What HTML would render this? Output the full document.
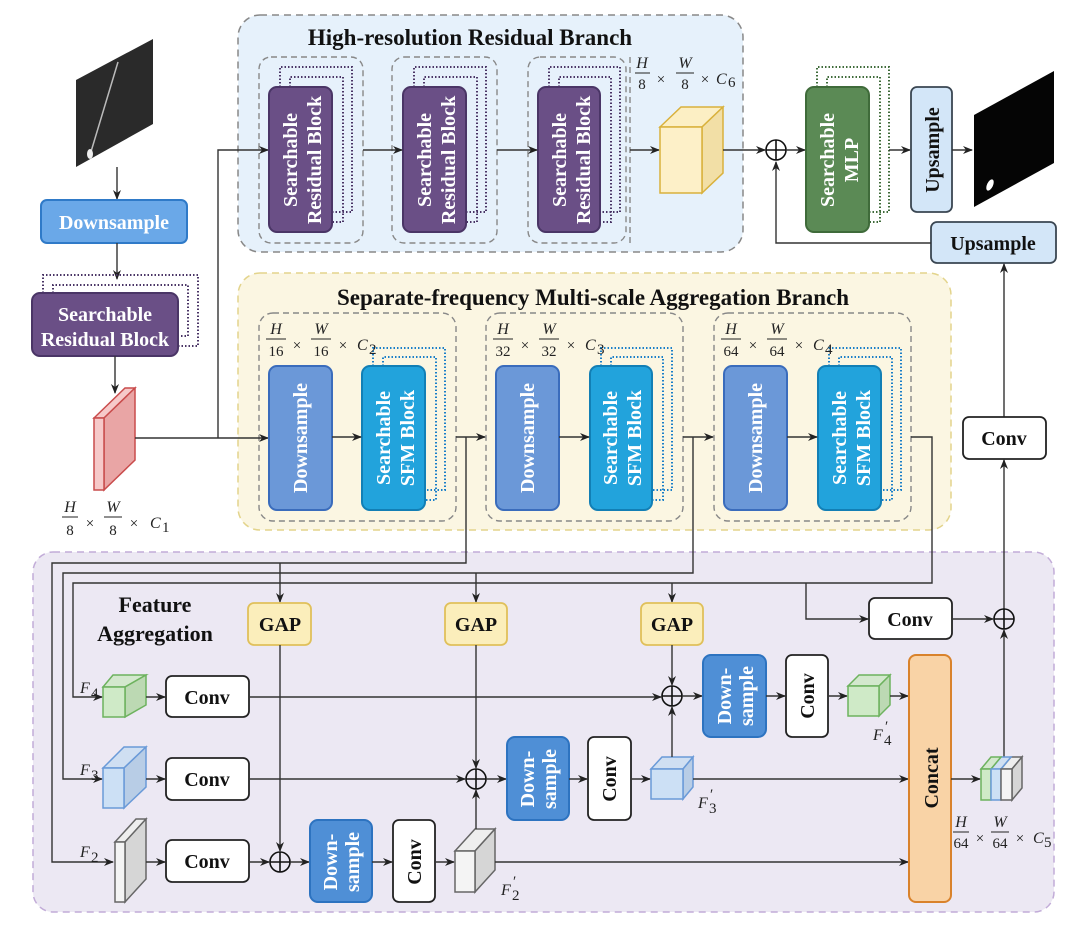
<!DOCTYPE html>
<html><head><meta charset="utf-8"><style>
html,body{margin:0;padding:0;background:#fff;}
svg{display:block;}
text{font-family:"Liberation Serif",serif;}
.b{font-weight:bold;}
.w{fill:#fff;font-weight:bold;font-size:20px;}
.k{fill:#111;font-weight:bold;}
.m{font-style:italic;font-size:16px;fill:#222;}
.n{font-size:15px;fill:#222;}
.ln{stroke:#333;stroke-width:1.4;fill:none;}
.dot{fill:none;stroke-width:2;stroke-dasharray:1.5 2;}
</style></head><body>
<svg width="1080" height="926" viewBox="0 0 1080 926" xmlns="http://www.w3.org/2000/svg">
<defs>
<marker id="a" markerWidth="10" markerHeight="8" refX="9" refY="4" orient="auto" markerUnits="userSpaceOnUse">
<path d="M0,0 L10,4 L0,8 L3,4 z" fill="#222"/></marker>
</defs>

<rect x="238" y="15" width="505" height="237" rx="22" fill="#e6f1fb" stroke="#888" stroke-width="1.5" stroke-dasharray="7 5"/>
<rect x="238" y="273" width="713" height="257" rx="22" fill="#fbf6e2" stroke="#e3d48c" stroke-width="1.5" stroke-dasharray="7 5"/>
<rect x="33" y="552" width="1021" height="360" rx="20" fill="#ece8f3" stroke="#c2acd8" stroke-width="1.5" stroke-dasharray="7 5"/>

<text x="470" y="45" text-anchor="middle" class="k" font-size="23">High-resolution Residual Branch</text>
<text x="593" y="305" text-anchor="middle" class="k" font-size="23">Separate-frequency Multi-scale Aggregation Branch</text>
<text x="155" y="612" text-anchor="middle" class="k" font-size="22">Feature</text>
<text x="155" y="641" text-anchor="middle" class="k" font-size="22">Aggregation</text>

<g fill="none" stroke="#888" stroke-width="1.4" stroke-dasharray="6 4">
<rect x="259" y="57" width="104" height="186" rx="12"/>
<rect x="392" y="57" width="105" height="186" rx="12"/>
<rect x="528" y="57" width="98" height="186" rx="12"/>
<line x1="630" y1="57" x2="630" y2="243"/>
<rect x="259" y="313" width="197" height="208" rx="14"/>
<rect x="486" y="313" width="197" height="208" rx="14"/>
<rect x="714" y="313" width="197" height="208" rx="14"/>
</g>

<polygon points="76,80 153,39 153,124 76,167" fill="#2a2a2a"/>
<line x1="90" y1="155" x2="118" y2="62" stroke="#bbb" stroke-width="1.5"/>
<ellipse cx="90" cy="154" rx="3" ry="5" fill="#eee"/>
<polygon points="974,115 1054,71 1054,163 974,207" fill="#050505"/>
<ellipse cx="990" cy="185" rx="3" ry="6" fill="#fff" transform="rotate(25 990 185)"/>

<line x1="117" y1="167" x2="117" y2="199" class="ln" marker-end="url(#a)"/>
<rect x="41" y="200" width="146" height="43" rx="6" fill="#6aa8e8" stroke="#2f7ac8" stroke-width="2"/>
<text x="114" y="229" text-anchor="middle" class="w" font-size="20">Downsample</text>
<line x1="117" y1="243" x2="117" y2="279" class="ln" marker-end="url(#a)"/>
<path class="dot" stroke="#4a3566" d="M43,293 V275 H198 V346 H178"/>
<path class="dot" stroke="#4a3566" d="M53,293 V285 H188 V336 H178"/>
<rect x="32" y="293" width="146" height="63" rx="8" fill="#6a4f86" stroke="#4a3566" stroke-width="2"/>
<text x="105" y="321" text-anchor="middle" class="w">Searchable</text>
<text x="105" y="346" text-anchor="middle" class="w">Residual Block</text>
<line x1="115" y1="356" x2="115" y2="393" class="ln" marker-end="url(#a)"/>
<polygon points="94,418 125,388 135,388 104,418" fill="#f6c9c9" stroke="#c94c4c" stroke-width="1.5"/>
<polygon points="104,418 135,388 135,460 104,490" fill="#e9a5a5" stroke="#c94c4c" stroke-width="1.5"/>
<rect x="94" y="418" width="10" height="72" fill="#f6c9c9" stroke="#c94c4c" stroke-width="1.5"/>
<text x="70" y="512" text-anchor="middle" class="m">H</text><line x1="62" y1="517" x2="78" y2="517" stroke="#222"/><text x="70" y="535" text-anchor="middle" class="n">8</text>
<text x="90" y="528" text-anchor="middle" class="n">×</text>
<text x="113" y="512" text-anchor="middle" class="m">W</text><line x1="104" y1="517" x2="122" y2="517" stroke="#222"/><text x="113" y="535" text-anchor="middle" class="n">8</text>
<text x="134" y="528" text-anchor="middle" class="n">×</text>
<text x="150" y="528" class="m">C</text><text x="162" y="532" class="n" font-size="11">1</text>

<line x1="135" y1="438" x2="268" y2="438" class="ln" marker-end="url(#a)"/>
<polyline points="218,438 218,150 268,150" class="ln" marker-end="url(#a)"/>

<g>
<path class="dot" stroke="#4a3566" d="M280,87 V67 H352 V212 H332"/>
<path class="dot" stroke="#4a3566" d="M290,87 V77 H343 V222 H332"/>
<rect x="269" y="87" width="63" height="145" rx="8" fill="#6a4f86" stroke="#4a3566" stroke-width="2"/>
<text transform="translate(297,160) rotate(-90)" text-anchor="middle" class="w">Searchable</text>
<text transform="translate(321,160) rotate(-90)" text-anchor="middle" class="w">Residual Block</text>
</g>
<g>
<path class="dot" stroke="#4a3566" d="M414,87 V67 H486 V212 H466"/>
<path class="dot" stroke="#4a3566" d="M424,87 V77 H477 V222 H466"/>
<rect x="403" y="87" width="63" height="145" rx="8" fill="#6a4f86" stroke="#4a3566" stroke-width="2"/>
<text transform="translate(431,160) rotate(-90)" text-anchor="middle" class="w">Searchable</text>
<text transform="translate(455,160) rotate(-90)" text-anchor="middle" class="w">Residual Block</text>
</g>
<g>
<path class="dot" stroke="#4a3566" d="M549,87 V67 H620 V212 H600"/>
<path class="dot" stroke="#4a3566" d="M559,87 V77 H611 V222 H600"/>
<rect x="538" y="87" width="62" height="145" rx="8" fill="#6a4f86" stroke="#4a3566" stroke-width="2"/>
<text transform="translate(566,160) rotate(-90)" text-anchor="middle" class="w">Searchable</text>
<text transform="translate(590,160) rotate(-90)" text-anchor="middle" class="w">Residual Block</text>
</g>
<line x1="363" y1="150" x2="402" y2="150" class="ln" marker-end="url(#a)"/>
<line x1="497" y1="150" x2="537" y2="150" class="ln" marker-end="url(#a)"/>
<line x1="630" y1="150" x2="659" y2="150" class="ln" marker-end="url(#a)"/>
<text x="642" y="68" text-anchor="middle" class="m">H</text><line x1="635" y1="73" x2="650" y2="73" stroke="#222"/><text x="642" y="89" text-anchor="middle" class="n">8</text>
<text x="661" y="84" text-anchor="middle" class="n">×</text>
<text x="685" y="68" text-anchor="middle" class="m">W</text><line x1="676" y1="73" x2="694" y2="73" stroke="#222"/><text x="685" y="89" text-anchor="middle" class="n">8</text>
<text x="705" y="84" text-anchor="middle" class="n">×</text>
<text x="716" y="84" class="m">C</text><text x="728" y="87" class="n" font-size="11">6</text>
<polygon points="660,127 681,107 723,107 702,127" fill="#fcefc4" stroke="#d9b13c" stroke-width="1.5"/>
<polygon points="702,127 723,107 723,173 702,193" fill="#f2dfa6" stroke="#d9b13c" stroke-width="1.5"/>
<rect x="660" y="127" width="42" height="66" fill="#fdf0c8" stroke="#d9b13c" stroke-width="1.5"/>
<line x1="723" y1="150" x2="765" y2="150" class="ln" marker-end="url(#a)"/>
<circle cx="776" cy="150" r="10" fill="none" stroke="#111" stroke-width="1.6"/>
<path d="M766,150 H786 M776,140 V160" stroke="#111" stroke-width="1.6"/>
<line x1="786" y1="150" x2="805" y2="150" class="ln" marker-end="url(#a)"/>
<path class="dot" stroke="#3f6b3a" d="M817,87 V67 H889 V212 H869"/>
<path class="dot" stroke="#3f6b3a" d="M827,87 V77 H880 V222 H869"/>
<rect x="806" y="87" width="63" height="145" rx="8" fill="#5b8a55" stroke="#3f6b3a" stroke-width="2"/>
<text transform="translate(834,160) rotate(-90)" text-anchor="middle" class="w">Searchable</text>
<text transform="translate(858,160) rotate(-90)" text-anchor="middle" class="w">MLP</text>
<line x1="889" y1="150" x2="910" y2="150" class="ln" marker-end="url(#a)"/>
<rect x="911" y="87" width="41" height="125" rx="6" fill="#d3e6f8" stroke="#3a4652" stroke-width="1.8"/>
<text transform="translate(939,150) rotate(-90)" text-anchor="middle" class="k" font-size="20">Upsample</text>
<line x1="952" y1="150" x2="972" y2="150" class="ln" marker-end="url(#a)"/>
<rect x="931" y="222" width="125" height="41" rx="6" fill="#d3e6f8" stroke="#3a4652" stroke-width="1.8"/>
<text x="993" y="250" text-anchor="middle" class="k" font-size="20">Upsample</text>
<polyline points="931,243 776,243 776,162" class="ln" marker-end="url(#a)"/>
<line x1="1004" y1="417" x2="1004" y2="264" class="ln" marker-end="url(#a)"/>
<rect x="963" y="417" width="83" height="42" rx="6" fill="#fff" stroke="#222" stroke-width="1.8"/>
<text x="1004" y="445" text-anchor="middle" class="k" font-size="20">Conv</text>
<line x1="1004" y1="609" x2="1004" y2="460" class="ln" marker-end="url(#a)"/>

<g>
<rect x="269" y="366" width="63" height="144" rx="8" fill="#6b98d8" stroke="#3a6cbc" stroke-width="2"/>
<text transform="translate(307,438) rotate(-90)" text-anchor="middle" class="w">Downsample</text>
<path class="dot" stroke="#1a7fc8" d="M373,366 V348 H445 V490 H425"/>
<path class="dot" stroke="#1a7fc8" d="M383,366 V357 H436 V500 H425"/>
<rect x="362" y="366" width="63" height="144" rx="8" fill="#22a3dc" stroke="#127fb5" stroke-width="2"/>
<text transform="translate(390,438) rotate(-90)" text-anchor="middle" class="w">Searchable</text>
<text transform="translate(414,438) rotate(-90)" text-anchor="middle" class="w">SFM Block</text>
<line x1="332" y1="437" x2="361" y2="437" class="ln" marker-end="url(#a)"/>
</g>
<g>
<rect x="496" y="366" width="63" height="144" rx="8" fill="#6b98d8" stroke="#3a6cbc" stroke-width="2"/>
<text transform="translate(534,438) rotate(-90)" text-anchor="middle" class="w">Downsample</text>
<path class="dot" stroke="#1a7fc8" d="M601,366 V348 H672 V490 H652"/>
<path class="dot" stroke="#1a7fc8" d="M611,366 V357 H663 V500 H652"/>
<rect x="590" y="366" width="62" height="144" rx="8" fill="#22a3dc" stroke="#127fb5" stroke-width="2"/>
<text transform="translate(617,438) rotate(-90)" text-anchor="middle" class="w">Searchable</text>
<text transform="translate(641,438) rotate(-90)" text-anchor="middle" class="w">SFM Block</text>
<line x1="559" y1="437" x2="589" y2="437" class="ln" marker-end="url(#a)"/>
</g>
<g>
<rect x="724" y="366" width="63" height="144" rx="8" fill="#6b98d8" stroke="#3a6cbc" stroke-width="2"/>
<text transform="translate(762,438) rotate(-90)" text-anchor="middle" class="w">Downsample</text>
<path class="dot" stroke="#1a7fc8" d="M829,366 V348 H901 V490 H881"/>
<path class="dot" stroke="#1a7fc8" d="M839,366 V357 H892 V500 H881"/>
<rect x="818" y="366" width="63" height="144" rx="8" fill="#22a3dc" stroke="#127fb5" stroke-width="2"/>
<text transform="translate(846,438) rotate(-90)" text-anchor="middle" class="w">Searchable</text>
<text transform="translate(870,438) rotate(-90)" text-anchor="middle" class="w">SFM Block</text>
<line x1="787" y1="437" x2="817" y2="437" class="ln" marker-end="url(#a)"/>
</g>
<g>
<text x="276" y="334" text-anchor="middle" class="m">H</text><line x1="266" y1="339" x2="286" y2="339" stroke="#222"/><text x="276" y="356" text-anchor="middle" class="n">16</text>
<text x="297" y="350" text-anchor="middle" class="n">×</text>
<text x="321" y="334" text-anchor="middle" class="m">W</text><line x1="311" y1="339" x2="331" y2="339" stroke="#222"/><text x="321" y="356" text-anchor="middle" class="n">16</text>
<text x="343" y="350" text-anchor="middle" class="n">×</text>
<text x="357" y="350" class="m">C</text><text x="369" y="354" class="n" font-size="11">2</text>
</g>
<g>
<text x="503" y="334" text-anchor="middle" class="m">H</text><line x1="493" y1="339" x2="513" y2="339" stroke="#222"/><text x="503" y="356" text-anchor="middle" class="n">32</text>
<text x="525" y="350" text-anchor="middle" class="n">×</text>
<text x="549" y="334" text-anchor="middle" class="m">W</text><line x1="539" y1="339" x2="559" y2="339" stroke="#222"/><text x="549" y="356" text-anchor="middle" class="n">32</text>
<text x="571" y="350" text-anchor="middle" class="n">×</text>
<text x="585" y="350" class="m">C</text><text x="597" y="354" class="n" font-size="11">3</text>
</g>
<g>
<text x="731" y="334" text-anchor="middle" class="m">H</text><line x1="721" y1="339" x2="741" y2="339" stroke="#222"/><text x="731" y="356" text-anchor="middle" class="n">64</text>
<text x="753" y="350" text-anchor="middle" class="n">×</text>
<text x="777" y="334" text-anchor="middle" class="m">W</text><line x1="767" y1="339" x2="787" y2="339" stroke="#222"/><text x="777" y="356" text-anchor="middle" class="n">64</text>
<text x="799" y="350" text-anchor="middle" class="n">×</text>
<text x="813" y="350" class="m">C</text><text x="825" y="354" class="n" font-size="11">4</text>
</g>
<line x1="456" y1="437" x2="485" y2="437" class="ln" marker-end="url(#a)"/>
<line x1="683" y1="437" x2="713" y2="437" class="ln" marker-end="url(#a)"/>

<polyline points="466,437 466,563 52,563 52,862 113,862" class="ln" marker-end="url(#a)"/>
<polyline points="693,437 693,573 63,573 63,779 102,779" class="ln" marker-end="url(#a)"/>
<polyline points="911,437 932,437 932,583 73,583 73,697 102,697" class="ln" marker-end="url(#a)"/>
<polyline points="806,583 806,619 868,619" class="ln" marker-end="url(#a)"/>
<line x1="280" y1="563" x2="280" y2="602" class="ln" marker-end="url(#a)"/>
<line x1="476" y1="573" x2="476" y2="602" class="ln" marker-end="url(#a)"/>
<line x1="672" y1="583" x2="672" y2="602" class="ln" marker-end="url(#a)"/>

<g>
<rect x="248" y="603" width="63" height="42" rx="6" fill="#fbeebb" stroke="#e0c05a" stroke-width="1.8"/>
<text x="280" y="631" text-anchor="middle" class="k" font-size="20">GAP</text>
<rect x="445" y="603" width="62" height="42" rx="6" fill="#fbeebb" stroke="#e0c05a" stroke-width="1.8"/>
<text x="476" y="631" text-anchor="middle" class="k" font-size="20">GAP</text>
<rect x="641" y="603" width="62" height="42" rx="6" fill="#fbeebb" stroke="#e0c05a" stroke-width="1.8"/>
<text x="672" y="631" text-anchor="middle" class="k" font-size="20">GAP</text>
</g>
<line x1="280" y1="645" x2="280" y2="851" class="ln" marker-end="url(#a)"/>
<line x1="476" y1="645" x2="476" y2="768" class="ln" marker-end="url(#a)"/>
<line x1="672" y1="645" x2="672" y2="685" class="ln" marker-end="url(#a)"/>

<rect x="869" y="598" width="83" height="41" rx="6" fill="#fff" stroke="#222" stroke-width="1.8"/>
<text x="910" y="626" text-anchor="middle" class="k" font-size="20">Conv</text>
<line x1="952" y1="619" x2="993" y2="619" class="ln" marker-end="url(#a)"/>
<circle cx="1004" cy="619" r="10" fill="none" stroke="#111" stroke-width="1.6"/>
<path d="M994,619 H1014 M1004,609 V629" stroke="#111" stroke-width="1.6"/>
<line x1="1004" y1="757" x2="1004" y2="630" class="ln" marker-end="url(#a)"/>

<text x="80" y="693" class="m" font-size="17">F</text><text x="91" y="698" class="n" font-size="11">4</text>
<text x="80" y="775" class="m" font-size="17">F</text><text x="91" y="780" class="n" font-size="11">3</text>
<text x="80" y="857" class="m" font-size="17">F</text><text x="91" y="862" class="n" font-size="11">2</text>

<polygon points="103,687 113,675 146,675 125,687" fill="#d3e8cd" stroke="#6db25e" stroke-width="1.5"/>
<polygon points="125,687 146,675 146,705 125,717" fill="#bcd9b3" stroke="#6db25e" stroke-width="1.5"/>
<rect x="103" y="687" width="22" height="30" fill="#cfeac7" stroke="#6db25e" stroke-width="1.5"/>
<polygon points="103,768 124,747 146,747 124,768" fill="#cfdff2" stroke="#6a9ad8" stroke-width="1.5"/>
<polygon points="124,768 146,747 146,787 124,808" fill="#b8cde6" stroke="#6a9ad8" stroke-width="1.5"/>
<rect x="103" y="768" width="21" height="40" fill="#cce0f5" stroke="#6a9ad8" stroke-width="1.5"/>
<polygon points="115,842 136,819 146,819 125,842" fill="#eee" stroke="#666" stroke-width="1.5"/>
<polygon points="125,842 146,819 146,879 125,902" fill="#d6d6d6" stroke="#666" stroke-width="1.5"/>
<rect x="115" y="842" width="10" height="60" fill="#f4f4f4" stroke="#666" stroke-width="1.5"/>

<line x1="146" y1="697" x2="165" y2="697" class="ln" marker-end="url(#a)"/>
<line x1="146" y1="779" x2="165" y2="779" class="ln" marker-end="url(#a)"/>
<line x1="146" y1="862" x2="165" y2="862" class="ln" marker-end="url(#a)"/>
<g>
<rect x="166" y="676" width="83" height="41" rx="6" fill="#fff" stroke="#222" stroke-width="1.8"/>
<text x="207" y="704" text-anchor="middle" class="k" font-size="20">Conv</text>
<rect x="166" y="758" width="83" height="42" rx="6" fill="#fff" stroke="#222" stroke-width="1.8"/>
<text x="207" y="786" text-anchor="middle" class="k" font-size="20">Conv</text>
<rect x="166" y="840" width="83" height="42" rx="6" fill="#fff" stroke="#222" stroke-width="1.8"/>
<text x="207" y="868" text-anchor="middle" class="k" font-size="20">Conv</text>
</g>
<line x1="249" y1="697" x2="661" y2="697" class="ln" marker-end="url(#a)"/>
<line x1="249" y1="779" x2="465" y2="779" class="ln" marker-end="url(#a)"/>
<line x1="249" y1="862" x2="269" y2="862" class="ln" marker-end="url(#a)"/>

<g stroke="#111" stroke-width="1.6" fill="none">
<circle cx="280" cy="862" r="10"/><path d="M270,862 H290 M280,852 V872"/>
<circle cx="476" cy="779" r="10"/><path d="M466,779 H486 M476,769 V789"/>
<circle cx="672" cy="696" r="10"/><path d="M662,696 H682 M672,686 V706"/>
</g>

<line x1="290" y1="862" x2="309" y2="862" class="ln" marker-end="url(#a)"/>
<rect x="310" y="820" width="62" height="82" rx="8" fill="#4f8fd6" stroke="#2d73c0" stroke-width="2"/>
<text transform="translate(337,862) rotate(-90)" text-anchor="middle" class="w">Down-</text>
<text transform="translate(359,862) rotate(-90)" text-anchor="middle" class="w">sample</text>
<line x1="372" y1="862" x2="392" y2="862" class="ln" marker-end="url(#a)"/>
<rect x="393" y="820" width="42" height="82" rx="6" fill="#fff" stroke="#222" stroke-width="1.8"/>
<text transform="translate(421,862) rotate(-90)" text-anchor="middle" class="k" font-size="20">Conv</text>
<line x1="435" y1="862" x2="454" y2="862" class="ln" marker-end="url(#a)"/>
<polygon points="455,851 475,829 495,829 475,851" fill="#eee" stroke="#666" stroke-width="1.5"/>
<polygon points="475,851 495,829 495,870 475,892" fill="#d6d6d6" stroke="#666" stroke-width="1.5"/>
<rect x="455" y="851" width="20" height="41" fill="#f4f4f4" stroke="#666" stroke-width="1.5"/>
<text x="501" y="895" class="m" font-size="17">F</text><text x="512" y="900" class="n" font-size="11">2</text><text x="513" y="886" class="n" font-size="12">′</text>
<line x1="476" y1="829" x2="476" y2="790" class="ln" marker-end="url(#a)"/>
<line x1="495" y1="862" x2="908" y2="862" class="ln" marker-end="url(#a)"/>

<line x1="486" y1="779" x2="506" y2="779" class="ln" marker-end="url(#a)"/>
<rect x="507" y="737" width="62" height="83" rx="8" fill="#4f8fd6" stroke="#2d73c0" stroke-width="2"/>
<text transform="translate(534,779) rotate(-90)" text-anchor="middle" class="w">Down-</text>
<text transform="translate(556,779) rotate(-90)" text-anchor="middle" class="w">sample</text>
<line x1="569" y1="779" x2="587" y2="779" class="ln" marker-end="url(#a)"/>
<rect x="588" y="737" width="43" height="83" rx="6" fill="#fff" stroke="#222" stroke-width="1.8"/>
<text transform="translate(616,779) rotate(-90)" text-anchor="middle" class="k" font-size="20">Conv</text>
<line x1="631" y1="779" x2="650" y2="779" class="ln" marker-end="url(#a)"/>
<polygon points="651,769 662,757 693,757 683,769" fill="#cfdff2" stroke="#6a9ad8" stroke-width="1.5"/>
<polygon points="683,769 693,757 693,787 683,799" fill="#b8cde6" stroke="#6a9ad8" stroke-width="1.5"/>
<rect x="651" y="769" width="32" height="30" fill="#cce0f5" stroke="#6a9ad8" stroke-width="1.5"/>
<text x="698" y="808" class="m" font-size="17">F</text><text x="709" y="813" class="n" font-size="11">3</text><text x="710" y="799" class="n" font-size="12">′</text>
<line x1="672" y1="757" x2="672" y2="707" class="ln" marker-end="url(#a)"/>
<line x1="693" y1="779" x2="908" y2="779" class="ln" marker-end="url(#a)"/>

<line x1="682" y1="696" x2="702" y2="696" class="ln" marker-end="url(#a)"/>
<rect x="703" y="655" width="63" height="82" rx="8" fill="#4f8fd6" stroke="#2d73c0" stroke-width="2"/>
<text transform="translate(731,696) rotate(-90)" text-anchor="middle" class="w">Down-</text>
<text transform="translate(753,696) rotate(-90)" text-anchor="middle" class="w">sample</text>
<line x1="766" y1="696" x2="785" y2="696" class="ln" marker-end="url(#a)"/>
<rect x="786" y="655" width="42" height="82" rx="6" fill="#fff" stroke="#222" stroke-width="1.8"/>
<text transform="translate(814,696) rotate(-90)" text-anchor="middle" class="k" font-size="20">Conv</text>
<line x1="828" y1="696" x2="847" y2="696" class="ln" marker-end="url(#a)"/>
<polygon points="848,686 859,675 890,675 879,686" fill="#d3e8cd" stroke="#6db25e" stroke-width="1.5"/>
<polygon points="879,686 890,675 890,705 879,716" fill="#bcd9b3" stroke="#6db25e" stroke-width="1.5"/>
<rect x="848" y="686" width="31" height="30" fill="#cfeac7" stroke="#6db25e" stroke-width="1.5"/>
<text x="873" y="740" class="m" font-size="17">F</text><text x="884" y="745" class="n" font-size="11">4</text><text x="885" y="731" class="n" font-size="12">′</text>
<line x1="890" y1="696" x2="908" y2="696" class="ln" marker-end="url(#a)"/>

<rect x="909" y="655" width="42" height="247" rx="7" fill="#f9d3a6" stroke="#d9822b" stroke-width="2"/>
<text transform="translate(938,778) rotate(-90)" text-anchor="middle" class="k" font-size="20">Concat</text>
<line x1="951" y1="779" x2="980" y2="779" class="ln" marker-end="url(#a)"/>
<g stroke-width="1.5">
<polygon points="1001,769 1011,757 1022,757 1012,769" fill="#eee" stroke="#666"/>
<polygon points="1012,769 1022,757 1022,788 1012,800" fill="#d6d6d6" stroke="#666"/>
<polygon points="991,769 1001,757 1011,757 1001,769" fill="#cfdff2" stroke="#6a9ad8"/>
<polygon points="981,769 991,757 1001,757 991,769" fill="#d3e8cd" stroke="#6db25e"/>
<rect x="981" y="769" width="10" height="31" fill="#cfeac7" stroke="#6db25e"/>
<rect x="991" y="769" width="10" height="31" fill="#cce0f5" stroke="#6a9ad8"/>
<rect x="1001" y="769" width="11" height="31" fill="#f4f4f4" stroke="#666"/>
</g>
<text x="961" y="827" text-anchor="middle" class="m" font-size="14">H</text><line x1="953" y1="832" x2="969" y2="832" stroke="#222"/><text x="961" y="848" text-anchor="middle" class="n" font-size="14">64</text>
<text x="980" y="843" text-anchor="middle" class="n" font-size="13">×</text>
<text x="1000" y="827" text-anchor="middle" class="m" font-size="14">W</text><line x1="991" y1="832" x2="1009" y2="832" stroke="#222"/><text x="1000" y="848" text-anchor="middle" class="n" font-size="14">64</text>
<text x="1020" y="843" text-anchor="middle" class="n" font-size="13">×</text>
<text x="1033" y="843" class="m" font-size="14">C</text><text x="1044" y="847" class="n" font-size="10">5</text>
</svg>
</body></html>
